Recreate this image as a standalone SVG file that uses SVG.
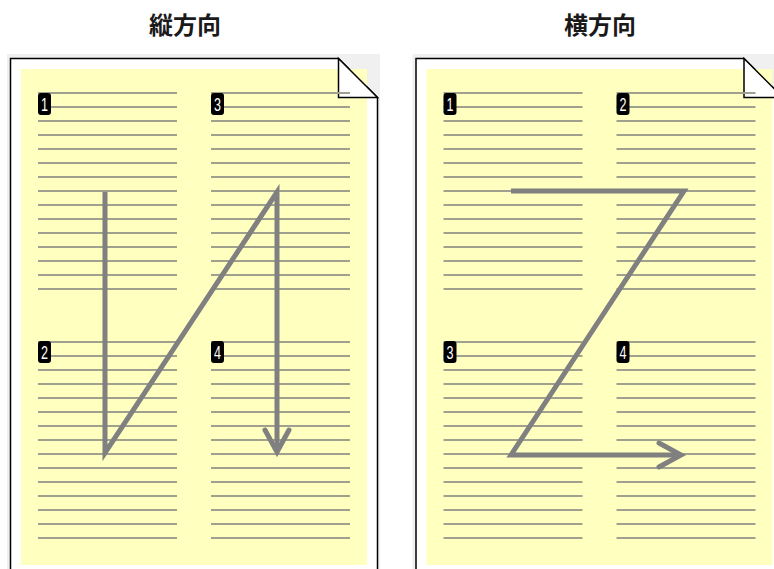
<svg xmlns="http://www.w3.org/2000/svg" xmlns:xlink="http://www.w3.org/1999/xlink" width="774" height="569" viewBox="0 0 774 569">
  <style>
    .title { font-family: "Noto Sans CJK JP", "Noto Sans", sans-serif; font-weight: bold; font-size: 24px; fill: #1a1a1a; text-anchor: middle; }
    .frame { fill: #f0f0f0; }
    .sheet { fill: #ffffff; stroke: #000000; stroke-width: 1.5; }
    .paper { fill: #ffffc0; }
    .rules { fill: none; stroke: #a0a08e; stroke-width: 2; }
    .badge rect { fill: #000000; }
    .badge text { font-family: "Liberation Sans", Arial, sans-serif; font-size: 18px; fill: #ffffff; text-anchor: middle; }
    .flow { fill: none; stroke: #808080; stroke-width: 5; stroke-linejoin: miter; stroke-miterlimit: 10; }
  </style>
  <defs>
    <path id="col" class="rules" d="M0,0H139M0,14H139M0,28H139M0,42H139M0,56H139M0,70H139M0,84H139M0,98H139M0,112H139M0,126H139M0,140H139M0,154H139M0,168H139M0,182H139M0,196H139"/>
    <g id="page">
      <rect class="frame" x="7" y="54" width="373" height="515"/>
      <path class="sheet" d="M10.5,569V58.5H338.5L377.5,97.5V569"/>
      <rect class="paper" x="21" y="69" width="346" height="496"/>
      <path class="sheet" d="M338.5,58.5V97.5H377.5Z"/>
      <use xlink:href="#col" x="38" y="93"/>
      <use xlink:href="#col" x="211" y="93"/>
      <use xlink:href="#col" x="38" y="342"/>
      <use xlink:href="#col" x="211" y="342"/>
    </g>
    <marker id="chev" markerUnits="userSpaceOnUse" viewBox="-30 -16 36 32" refX="0" refY="0" markerWidth="36" markerHeight="32" orient="auto" overflow="visible">
      <path d="M-22,-12L0,0L-22,12" fill="none" stroke="#808080" stroke-width="5" stroke-linecap="round" stroke-linejoin="miter"/>
    </marker>
  </defs>

  <g id="title-vertical">
    <text class="title" x="185" y="34">縦方向</text>
  </g>
  <g id="title-horizontal">
    <text class="title" x="600" y="34">横方向</text>
  </g>

  <g id="page-vertical">
    <use xlink:href="#page"/>
    <g class="badge">
      <rect x="38" y="93" width="13" height="22" rx="3"/>
      <text x="44.5" y="110.5" textLength="7" lengthAdjust="spacingAndGlyphs">1</text>
      <rect x="211" y="93" width="13" height="22" rx="3"/>
      <text x="217.5" y="110.5" textLength="7" lengthAdjust="spacingAndGlyphs">3</text>
      <rect x="38" y="341" width="13" height="22" rx="3"/>
      <text x="44.5" y="358.5" textLength="7" lengthAdjust="spacingAndGlyphs">2</text>
      <rect x="211" y="341" width="13" height="22" rx="3"/>
      <text x="217.5" y="358.5" textLength="7" lengthAdjust="spacingAndGlyphs">4</text>
    </g>
  </g>

  <g id="page-horizontal">
    <use xlink:href="#page" transform="translate(405.5,0)"/>
    <g class="badge">
      <rect x="443.5" y="93" width="13" height="22" rx="3"/>
      <text x="450" y="110.5" textLength="7" lengthAdjust="spacingAndGlyphs">1</text>
      <rect x="616.5" y="93" width="13" height="22" rx="3"/>
      <text x="623" y="110.5" textLength="7" lengthAdjust="spacingAndGlyphs">2</text>
      <rect x="443.5" y="341" width="13" height="22" rx="3"/>
      <text x="450" y="358.5" textLength="7" lengthAdjust="spacingAndGlyphs">3</text>
      <rect x="616.5" y="341" width="13" height="22" rx="3"/>
      <text x="623" y="358.5" textLength="7" lengthAdjust="spacingAndGlyphs">4</text>
    </g>
  </g>

  <g id="connectors">
    <polyline class="flow" points="105,192 105,453 277,192 277,452" marker-end="url(#chev)"/>
    <polyline class="flow" points="511,191 684,191 511,455 681,455" marker-end="url(#chev)"/>
  </g>
</svg>
